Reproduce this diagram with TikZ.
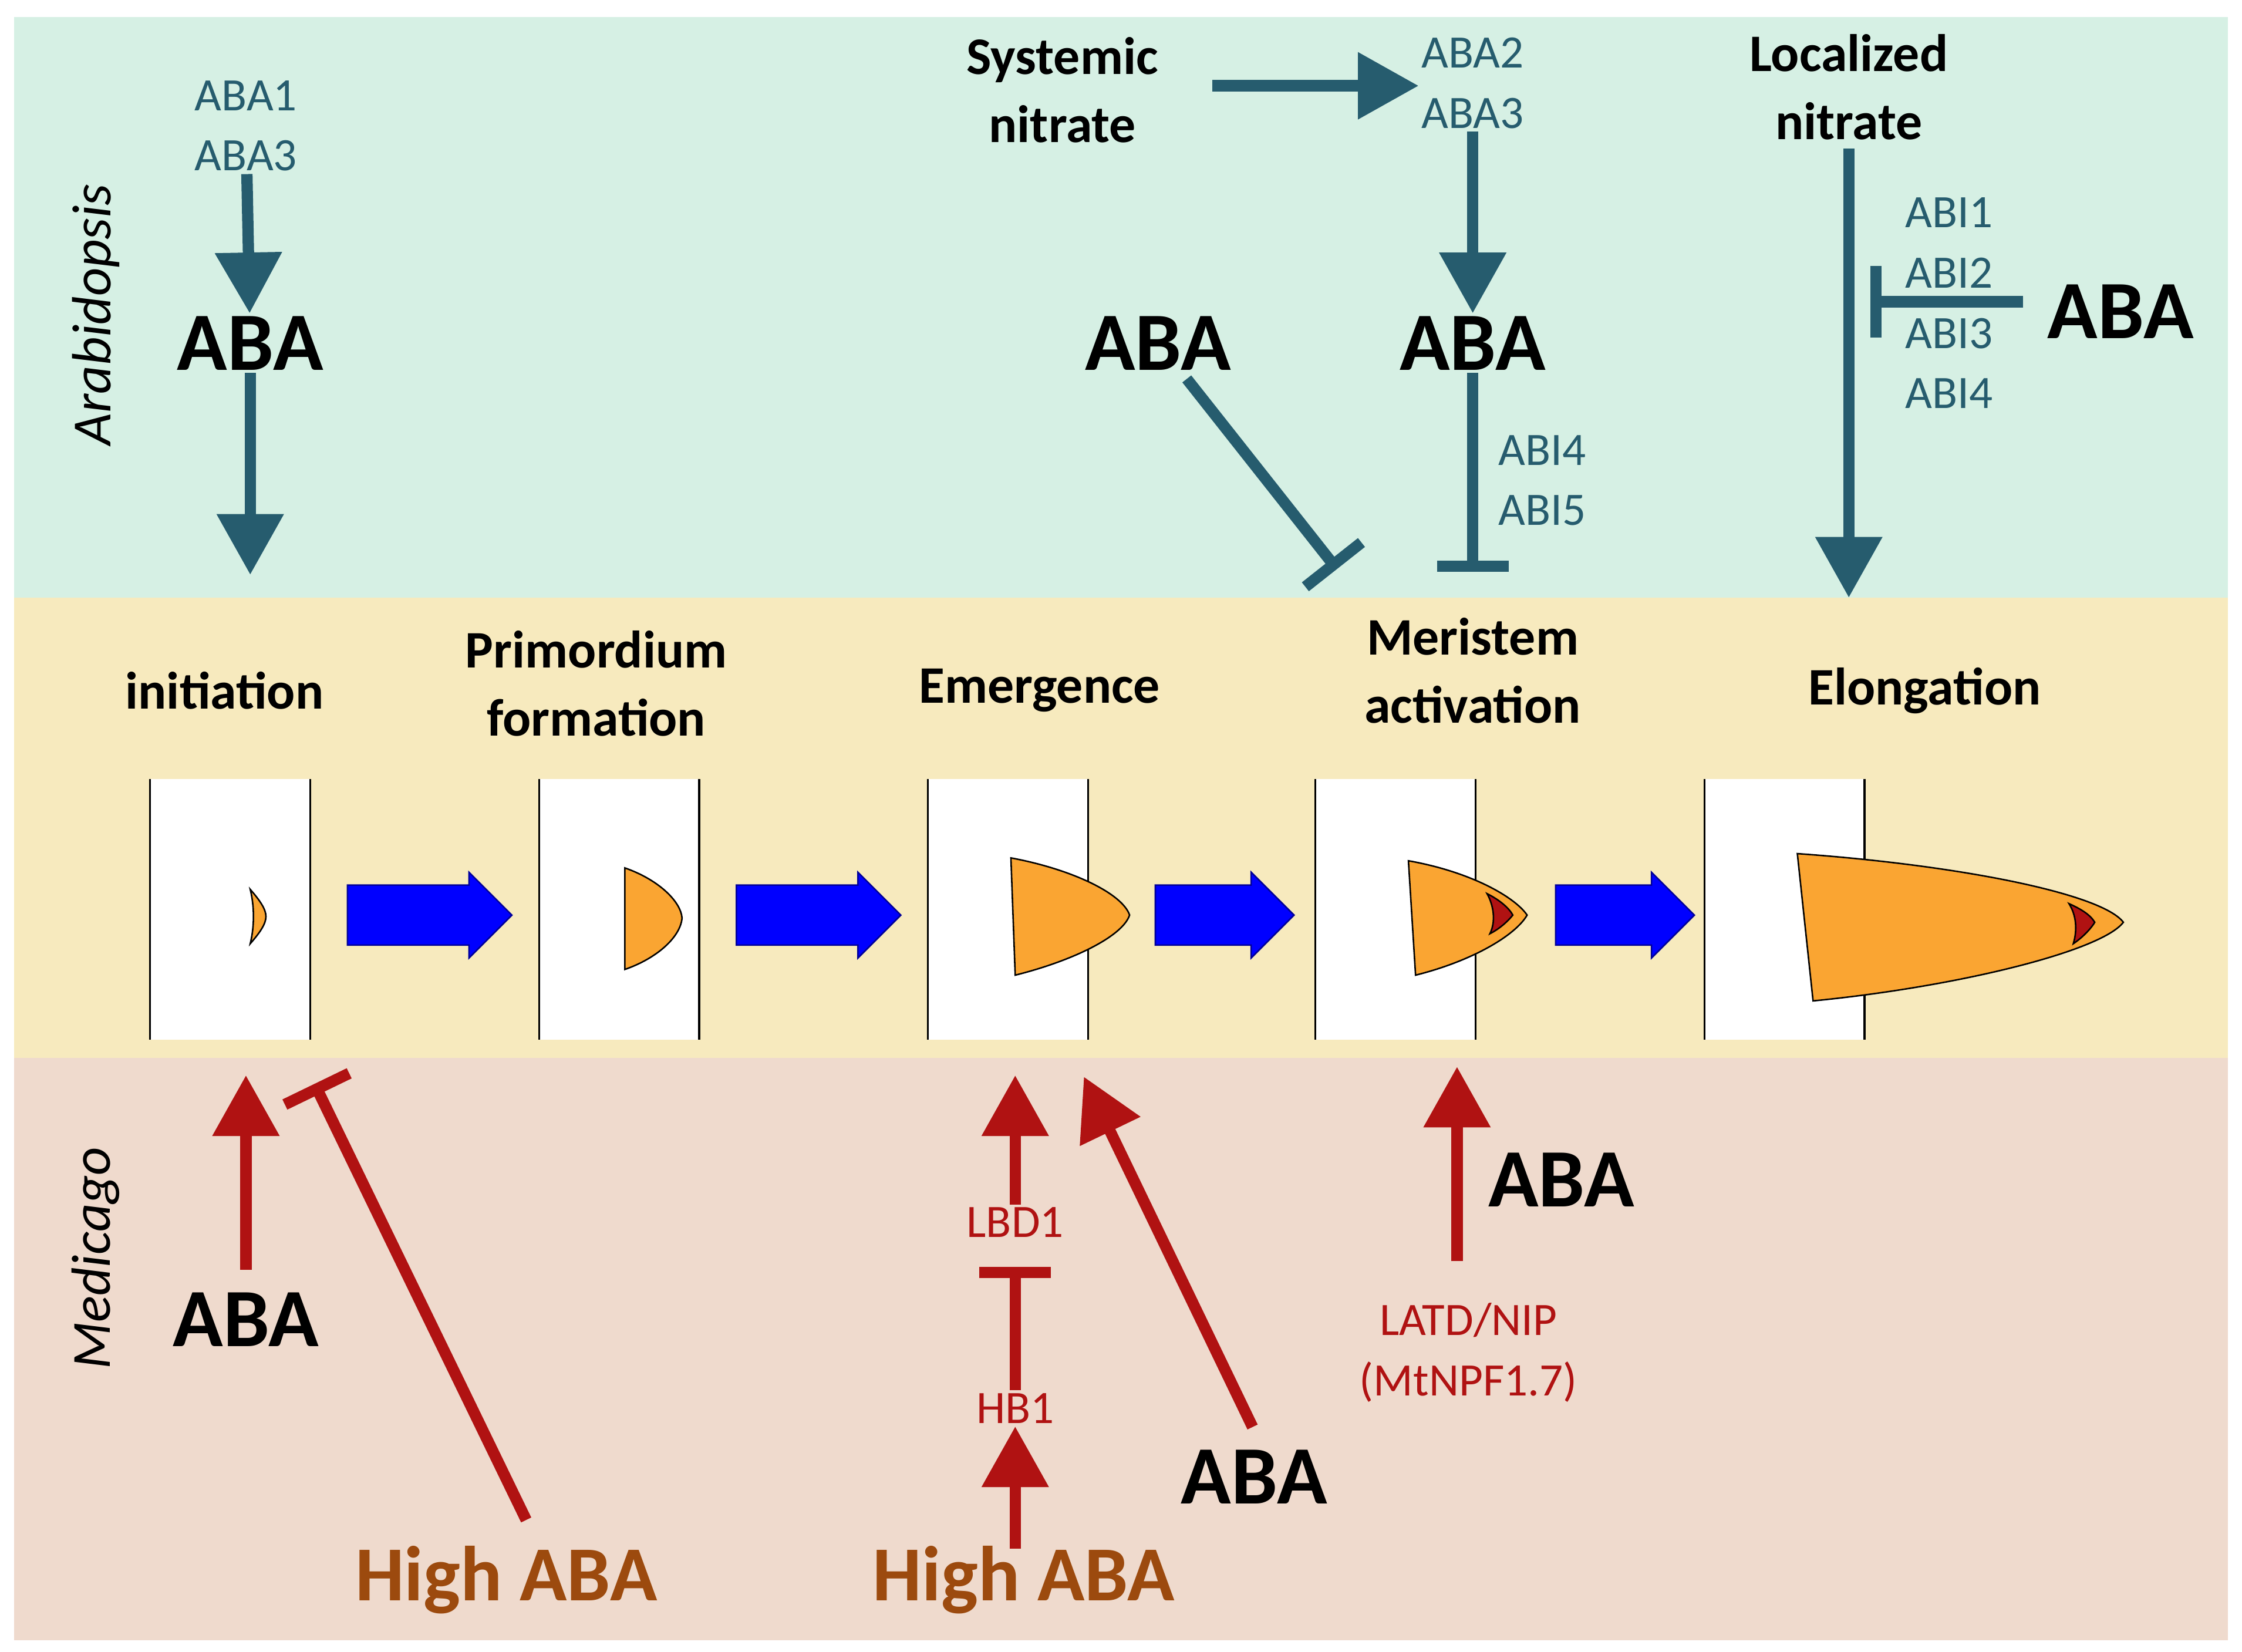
\documentclass[tikz,border=0pt]{standalone}
\usepackage{fontspec}
\setmainfont{Carlito}
\usetikzlibrary{arrows.meta,positioning}
\definecolor{tealA}{RGB}{38,92,110}
\definecolor{darkred}{RGB}{176,18,18}
\definecolor{brownaba}{RGB}{156,74,14}
\definecolor{bandgreen}{RGB}{214,240,228}
\definecolor{bandyellow}{RGB}{247,234,190}
\definecolor{bandpink}{RGB}{239,218,205}
\definecolor{rootorange}{RGB}{250,165,50}
\begin{document}
\begin{tikzpicture}[x=0.02cm,y=-0.02cm,
    gene/.style={font=\fontsize{18.5}{22}\selectfont,align=center,inner sep=1pt},
    big/.style={font=\fontsize{33}{34}\selectfont\bfseries,inner sep=1pt},
    high/.style={font=\fontsize{31}{32}\selectfont\bfseries,text=brownaba,inner sep=1pt},
    stage/.style={font=\fontsize{21}{27}\selectfont\bfseries,align=center},
    tarrow/.style={tealA,line width=4.5pt,-{Triangle[width=0.9cm,length=0.85cm]}},
    tbar/.style={tealA,line width=4.5pt,-{Bar[width=1cm]}},
    rarrow/.style={darkred,line width=4.5pt,-{Triangle[width=0.9cm,length=0.85cm]}},
    rbar/.style={darkred,line width=4.5pt,-{Bar[width=1cm]}},
    block/.style={fill=blue,draw=blue!60!black,line width=0.6pt},
    panel/.style={fill=white},
    root/.style={fill=rootorange,draw=black,line width=0.6pt}]
\useasboundingbox (0,0) rectangle (1568,1155);
% bands
\fill[bandgreen] (10,12) rectangle (1558,418);
\fill[bandyellow] (10,418) rectangle (1558,740);
\fill[bandpink] (10,740) rectangle (1558,1147);
\node[rotate=90,font=\fontsize{22}{24}\selectfont\itshape] (arab) at (67,220) {Arabidopsis};
\node[rotate=90,font=\fontsize{22}{24}\selectfont\itshape] (medi) at (67,880) {Medicago};
% stages
\node[stage] (ini) at (157,483) {initiation};
\node[stage] (pri) at (417,478) {Primordium\\formation};
\node[stage] (eme) at (727,483) {Emergence};
\node[stage] (mer) at (1030,469) {Meristem\\activation};
\node[stage] (elo) at (1346,483) {Elongation};
% panels
\foreach \x in {105,377,649,920,1192}{
    \fill[panel] (\x,545) rectangle (\x+112,727);
    \draw[line width=0.8pt] (\x,545) -- (\x,727) (\x+112,545) -- (\x+112,727);
}
% block arrows
\foreach \x/\l in {243/115,515/115,808/97,1088/97}{
    \draw[block] (\x,619) -- (\x+\l-30,619) -- (\x+\l-30,610) -- (\x+\l,640)
        -- (\x+\l-30,670) -- (\x+\l-30,661) -- (\x,661) -- cycle;
}
% roots
\draw[root] (175,622) .. controls (182,630) and (186,636) .. (186,641) .. controls (186,646) and (182,652) .. (175,660) .. controls (178,648) and (178,634) .. cycle;
\draw[root] (437,607) .. controls (460,615) and (476,630) .. (477,642) .. controls (476,655) and (460,670) .. (437,678) -- cycle;
\draw[root] (707,600) .. controls (750,608) and (785,625) .. (790,640) .. controls (785,655) and (750,672) .. (710,682) -- cycle;
\draw[root] (985,602) .. controls (1030,610) and (1060,628) .. (1068,640) .. controls (1060,654) and (1030,672) .. (990,682) -- cycle;
\draw[fill=darkred,line width=0.6pt] (1040,625) .. controls (1050,630) and (1056,636) .. (1058,640) .. controls (1054,645) and (1048,650) .. (1042,653) .. controls (1046,645) and (1045,634) .. cycle;
\draw[root] (1257,597) .. controls (1370,605) and (1470,625) .. (1485,645) .. controls (1470,665) and (1370,690) .. (1268,700) -- cycle;
\draw[fill=darkred,line width=0.6pt] (1447,632) .. controls (1456,636) and (1462,640) .. (1465,645) .. controls (1462,650) and (1456,656) .. (1450,660) .. controls (1453,650) and (1452,640) .. cycle;
% Arabidopsis
\node[gene,text=tealA] (aba13) at (172,88) {ABA1\\[2pt]ABA3};
\node[big] (abaA) at (175,240) {ABA};
\draw[tarrow] (aba13) -- (abaA);
\coordinate (iniTop) at (175,402);
\draw[tarrow] (abaA) -- (iniTop);
\node[font=\fontsize{21}{27}\selectfont\bfseries,align=center] (sysn) at (743,63) {Systemic\\nitrate};
\node[gene,text=tealA] (aba23) at (1030,58) {ABA2\\[2pt]ABA3};
\draw[tarrow] (848,60) -- (aba23.west |- 848,60);
\node[big] (abaB) at (1030,240) {ABA};
\draw[tarrow] (aba23) -- (abaB);
\coordinate (merTop) at (1030,400);
\draw[tbar] (abaB) -- (merTop);
\node[gene,text=tealA,anchor=west] (abi45) at (1046,336) {ABI4\\[2pt]ABI5};
\node[big] (abaC) at (810,240) {ABA};
\coordinate (merCorner) at (935,398);
\draw[tbar] (830,265) -- (merCorner);
\node[font=\fontsize{21}{27}\selectfont\bfseries,align=center] (locn) at (1293,61) {Localized\\nitrate};
\coordinate (eloTop) at (1293,418);
\draw[tarrow] (locn) -- (eloTop);
\node[gene,text=tealA] (abi14) at (1363,212) {ABI1\\[2pt]ABI2\\[2pt]ABI3\\[2pt]ABI4};
\node[big] (abaD) at (1483,218) {ABA};
\coordinate (abiBar) at (1308,211);
\draw[tbar] (1415,211) -- (abiBar);
% Medicago
\node[big] (abaE) at (172,923) {ABA};
\coordinate (iniBot) at (172,752);
\draw[rarrow] (172,888) -- (iniBot);
\node[high] (highA) at (354,1105) {High ABA};
\coordinate (iniBar) at (220,758);
\draw[rbar] (368,1063) -- (iniBar);
\node[gene,text=darkred] (lbd) at (710,855) {LBD1};
\coordinate (emeBot) at (710,752);
\draw[rarrow] (lbd) -- (emeBot);
\node[gene,text=darkred] (hb) at (710,985) {HB1};
\draw[rbar] (hb) -- (710,886);
\node[high] (highB) at (716,1105) {High ABA};
\draw[rarrow] (710,1083) -- (hb);
\node[big] (abaF) at (877,1033) {ABA};
\coordinate (emeBot2) at (758,753);
\draw[rarrow] (876,998) -- (emeBot2);
\node[big] (abaG) at (1092,825) {ABA};
\node[gene,text=darkred] (latd) at (1027,946) {LATD/NIP\\[2pt](MtNPF1.7)};
\coordinate (merBot) at (1019,746);
\draw[rarrow] (1019,882) -- (merBot);
\end{tikzpicture}
\end{document}
